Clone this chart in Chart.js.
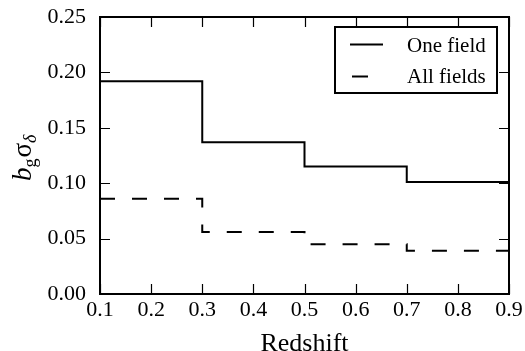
<!DOCTYPE html>
<html>
<head>
<meta charset="utf-8">
<script src="https://cdn.jsdelivr.net/npm/chart.js@4"></script>
<style>
html,body{margin:0;padding:0;background:#fff;}
canvas{display:block;}
</style>
</head>
<body>
<canvas id="c" width="525" height="351"></canvas>
<script>
// ---- data ----
const binEdges = [0.1, 0.3, 0.5, 0.7, 0.9];
const oneField = [0.192, 0.137, 0.115, 0.101, 0.101];
const allFields = [0.086, 0.056, 0.045, 0.039, 0.039];
const xTicks = [0.1, 0.2, 0.3, 0.4, 0.5, 0.6, 0.7, 0.8, 0.9];
const yTicks = [0.00, 0.05, 0.10, 0.15, 0.20, 0.25];
const seriesNames = ['One field', 'All fields'];
const xTitle = 'Redshift';

const SERIF = '"Liberation Serif", "Times New Roman", serif';
const DASH = [15, 17];

const framePlugin = {
  id: 'frame',
  afterDraw(chart) {
    const ctx = chart.ctx;
    const a = chart.chartArea;
    const xs = chart.scales.x, ys = chart.scales.y;
    ctx.save();
    ctx.strokeStyle = '#000';
    // ticks (inward, all four sides)
    ctx.lineWidth = 1.2;
    ctx.beginPath();
    xTicks.forEach(v => {
      const px = Math.round(xs.getPixelForValue(v)) + 0.5;
      ctx.moveTo(px, a.bottom); ctx.lineTo(px, a.bottom - 10);
      ctx.moveTo(px, a.top); ctx.lineTo(px, a.top + 10);
    });
    yTicks.forEach(v => {
      const py = Math.round(ys.getPixelForValue(v)) + 0.5;
      ctx.moveTo(a.left, py); ctx.lineTo(a.left + 10, py);
      ctx.moveTo(a.right, py); ctx.lineTo(a.right - 10, py);
    });
    ctx.stroke();
    // frame
    ctx.lineWidth = 2;
    ctx.strokeRect(a.left, a.top, a.right - a.left, a.bottom - a.top);

    // legend
    const lx = 335, ly = 27, lw = 162, lh = 66;
    ctx.fillStyle = '#fff';
    ctx.fillRect(lx, ly, lw, lh);
    ctx.lineWidth = 2;
    ctx.strokeRect(lx, ly, lw, lh);
    ctx.beginPath();
    ctx.moveTo(350, 44.5); ctx.lineTo(383, 44.5);
    ctx.stroke();
    ctx.beginPath();
    ctx.moveTo(352, 76.5); ctx.lineTo(368, 76.5);
    ctx.stroke();
    ctx.fillStyle = '#000';
    ctx.font = '21px ' + SERIF;
    ctx.textBaseline = 'alphabetic';
    ctx.textAlign = 'left';
    ctx.fillText(seriesNames[0], 407, 52);
    ctx.fillText(seriesNames[1], 407, 83);

    // x title
    ctx.font = '26px ' + SERIF;
    ctx.textAlign = 'center';
    ctx.fillText(xTitle, (a.left + a.right) / 2, 351);

    // y title: b_g sigma_delta (rotated)
    ctx.translate(31, 156);
    ctx.rotate(-Math.PI / 2);
    ctx.textAlign = 'left';
    let x = -25;
    ctx.font = 'italic 27px ' + SERIF;
    ctx.fillText('b', x, 0); x += ctx.measureText('b').width;
    ctx.font = '18px ' + SERIF;
    ctx.fillText('g', x, 5); x += ctx.measureText('g').width + 1;
    ctx.font = '27px ' + SERIF;
    ctx.fillText('σ', x, 0); x += ctx.measureText('σ').width;
    ctx.font = 'italic 18px ' + SERIF;
    ctx.fillText('δ', x, 5);
    ctx.restore();
  }
};

const mk = (ys) => binEdges.map((x, i) => ({ x: x, y: ys[i] }));

new Chart(document.getElementById('c'), {
  type: 'line',
  data: {
    datasets: [
      { label: seriesNames[0], data: mk(oneField), stepped: 'before', borderColor: '#000', borderWidth: 2, pointRadius: 0, fill: false },
      { label: seriesNames[1], data: mk(allFields), stepped: 'before', borderColor: '#000', borderWidth: 2, borderDash: DASH, pointRadius: 0, fill: false }
    ]
  },
  options: {
    responsive: false,
    animation: false,
    devicePixelRatio: 1,
    layout: { padding: { top: 17, right: 16, left: 0, bottom: 0 } },
    plugins: { legend: { display: false }, tooltip: { enabled: false } },
    scales: {
      x: {
        type: 'linear', min: 0.1, max: 0.9,
        afterBuildTicks: s => { s.ticks = xTicks.map(v => ({ value: v })); },
        afterFit: s => { s.height = 57; s.paddingLeft = 0; s.paddingRight = 0; },
        grid: { display: false, drawTicks: false },
        border: { display: false },
        ticks: { color: '#000', font: { family: SERIF, size: 22 }, padding: 3, maxRotation: 0, autoSkip: false,
                 callback: v => Number(v).toFixed(1) }
      },
      y: {
        type: 'linear', min: 0, max: 0.25,
        afterBuildTicks: s => { s.ticks = yTicks.map(v => ({ value: v })); },
        afterFit: s => { s.width = 100; s.paddingTop = 0; s.paddingBottom = 0; },
        grid: { display: false, drawTicks: false },
        border: { display: false },
        ticks: { color: '#000', font: { family: SERIF, size: 22 }, padding: 14,
                 callback: v => Number(v).toFixed(2) }
      }
    }
  },
  plugins: [framePlugin]
});
</script>
</body>
</html>
